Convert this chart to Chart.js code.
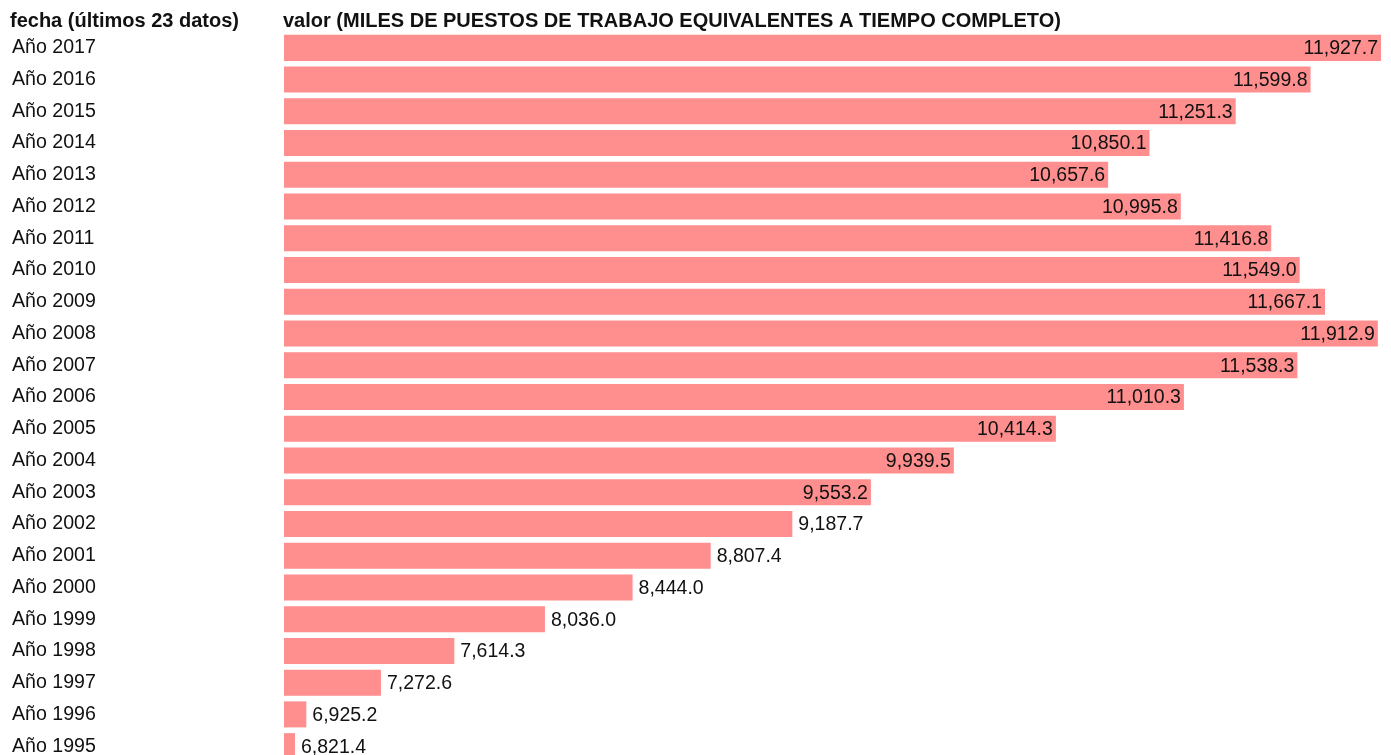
<!DOCTYPE html>
<html>
<head>
<meta charset="utf-8">
<script src="https://cdn.jsdelivr.net/npm/chart.js@4"></script>
<style>
  html, body { margin: 0; padding: 0; background: #fff; overflow: hidden; }
  canvas { display: block; }
</style>
</head>
<body>
<canvas id="chart" width="1391" height="762"></canvas>
<script>
// datos (de arriba a abajo)
const fechas = ['Año 2017','Año 2016','Año 2015','Año 2014','Año 2013','Año 2012','Año 2011','Año 2010',
  'Año 2009','Año 2008','Año 2007','Año 2006','Año 2005','Año 2004','Año 2003','Año 2002','Año 2001',
  'Año 2000','Año 1999','Año 1998','Año 1997','Año 1996','Año 1995'];
const valores = [11927.7, 11599.8, 11251.3, 10850.1, 10657.6, 10995.8, 11416.8, 11549.0,
  11667.1, 11912.9, 11538.3, 11010.3, 10414.3, 9939.5, 9553.2, 9187.7, 8807.4,
  8444.0, 8036.0, 7614.3, 7272.6, 6925.2, 6821.4];
const tituloFecha = 'fecha (últimos 23 datos)';
const tituloValor = 'valor (MILES DE PUESTOS DE TRABAJO EQUIVALENTES A TIEMPO COMPLETO)';

const FONT = '"Liberation Sans", Arial, sans-serif';
const fmt = v => v.toLocaleString('en-US', {minimumFractionDigits: 1, maximumFractionDigits: 1});
const minimo = Math.min(...valores);
const maximo = Math.max(...valores);

// cabeceras
const headerPlugin = {
  id: 'headers',
  afterDraw(chart) {
    const ctx = chart.ctx;
    ctx.save();
    ctx.fillStyle = '#111';
    ctx.font = 'bold 20px ' + FONT;
    ctx.textBaseline = 'alphabetic';
    ctx.textAlign = 'left';
    ctx.fillText(tituloFecha, 10, 27);
    ctx.fillText(tituloValor, chart.chartArea.left - 1, 27);
    ctx.restore();
  }
};

// etiquetas de valor
const valueLabels = {
  id: 'valueLabels',
  afterDatasetsDraw(chart) {
    const ctx = chart.ctx;
    const area = chart.chartArea;
    const meta = chart.getDatasetMeta(0);
    ctx.save();
    ctx.font = '19.5px ' + FONT;
    ctx.fillStyle = '#111';
    ctx.textBaseline = 'middle';
    meta.data.forEach((bar, i) => {
      const txt = fmt(valores[i]);
      const len = bar.x - area.left;
      if (len > (area.right - area.left) / 2) {
        ctx.textAlign = 'right';
        ctx.fillText(txt, bar.x - 3, bar.y + 1);
      } else {
        ctx.textAlign = 'left';
        ctx.fillText(txt, bar.x + 6, bar.y + 1);
      }
    });
    ctx.restore();
  }
};

new Chart(document.getElementById('chart'), {
  type: 'bar',
  data: {
    labels: fechas,
    datasets: [{
      data: valores,
      base: minimo,
      backgroundColor: '#ff8e8e',
      borderWidth: 0,
      barPercentage: 0.82,
      categoryPercentage: 1,
      minBarLength: 11
    }]
  },
  options: {
    indexAxis: 'y',
    responsive: false,
    animation: false,
    layout: { padding: { top: 32, right: 10, bottom: 0, left: 12 } },
    plugins: { legend: { display: false }, tooltip: { enabled: false } },
    scales: {
      x: {
        display: false,
        min: minimo,
        max: maximo
      },
      y: {
        grid: { display: false, drawTicks: false },
        border: { display: false },
        ticks: {
          crossAlign: 'far',
          color: '#111',
          padding: 0,
          font: { family: FONT, size: 19.6 }
        },
        afterFit(scale) {
          scale.width = 272;
          scale.paddingTop = 0;
          scale.paddingBottom = 0;
        }
      }
    }
  },
  plugins: [headerPlugin, valueLabels]
});
</script>
</body>
</html>
